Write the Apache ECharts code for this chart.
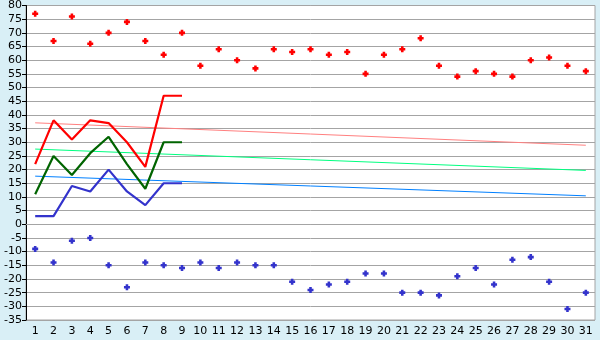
<!DOCTYPE html>
<html><head><meta charset="utf-8">
<script src="https://cdn.jsdelivr.net/npm/echarts@6/dist/echarts.min.js"></script>
<style>html,body{margin:0;padding:0;background:#d9eff6}#c{width:600px;height:340px}</style>
</head><body><div id="c"></div>
<script>
var days = ['1','2','3','4','5','6','7','8','9','10','11','12','13','14','15','16','17','18','19','20','21','22','23','24','25','26','27','28','29','30','31'];
var maxPoints = [77,67,76,66,70,74,67,62,70,58,64,60,57,64,63,64,62,63,55,62,64,68,58,54,56,55,54,60,61,58,56];
var minPoints = [-9,-14,-6,-5,-15,-23,-14,-15,-16,-14,-16,-14,-15,-15,-21,-24,-22,-21,-18,-18,-25,-25,-26,-19,-16,-22,-13,-12,-21,-31,-25];
var redLine = [22,38,31,38,37,30,21,47,47];
var greenLine = [11,25,18,26,32,22,13,30,30];
var blueLine = [3,3,14,12,20,12,7,15,15];
var redTrend = [37.1, 28.9];
var greenTrend = [27.5, 19.7];
var blueTrend = [17.6, 10.4];

function trend(ends){
  var a = days.map(function(){return null;});
  a[0] = ends[0]; a[a.length-1] = ends[1];
  return a;
}
var mark = 'path://M2,0H5V2H7V5H5V7H2V5H0V2H2Z';
var chart = echarts.init(document.getElementById('c'));
chart.setOption({
  animation:false,
  backgroundColor:'#d9eff6',
  textStyle:{fontFamily:'DejaVu Sans'},
  grid:{left:26,right:5,top:5,bottom:20,show:true,backgroundColor:'#ffffff',borderColor:'#a4a4a4',borderWidth:1},
  xAxis:{type:'category',data:days,boundaryGap:true,
    axisLine:{lineStyle:{color:'#a4a4a4'}},
    axisTick:{alignWithLabel:true,length:5,lineStyle:{color:'#000'}},
    axisLabel:{color:'#000',fontSize:11,margin:6,interval:0}},
  yAxis:{type:'value',min:-35,max:80,interval:5,
    axisLine:{show:true,lineStyle:{color:'#000'}},
    axisTick:{show:true,length:4,lineStyle:{color:'#000'}},
    axisLabel:{color:'#000',fontSize:11,margin:4},
    splitLine:{lineStyle:{color:'#a4a4a4',width:1}}},
  series:[
    {type:'line',data:trend(redTrend),connectNulls:true,symbol:'none',lineStyle:{color:'#ff8080',width:1}},
    {type:'line',data:trend(greenTrend),connectNulls:true,symbol:'none',lineStyle:{color:'#00ff80',width:1}},
    {type:'line',data:trend(blueTrend),connectNulls:true,symbol:'none',lineStyle:{color:'#0080ff',width:1}},
    {type:'line',data:redLine,symbol:'none',lineStyle:{color:'#ff0000',width:2.2}},
    {type:'line',data:greenLine,symbol:'none',lineStyle:{color:'#006400',width:2.2}},
    {type:'line',data:blueLine,symbol:'none',lineStyle:{color:'#3333cc',width:2.2}},
    {type:'scatter',data:maxPoints,symbol:mark,symbolSize:6,itemStyle:{color:'#ff0000',opacity:1}},
    {type:'scatter',data:minPoints,symbol:mark,symbolSize:6,itemStyle:{color:'#3333cc',opacity:1}}
  ]
});
</script></body></html>
